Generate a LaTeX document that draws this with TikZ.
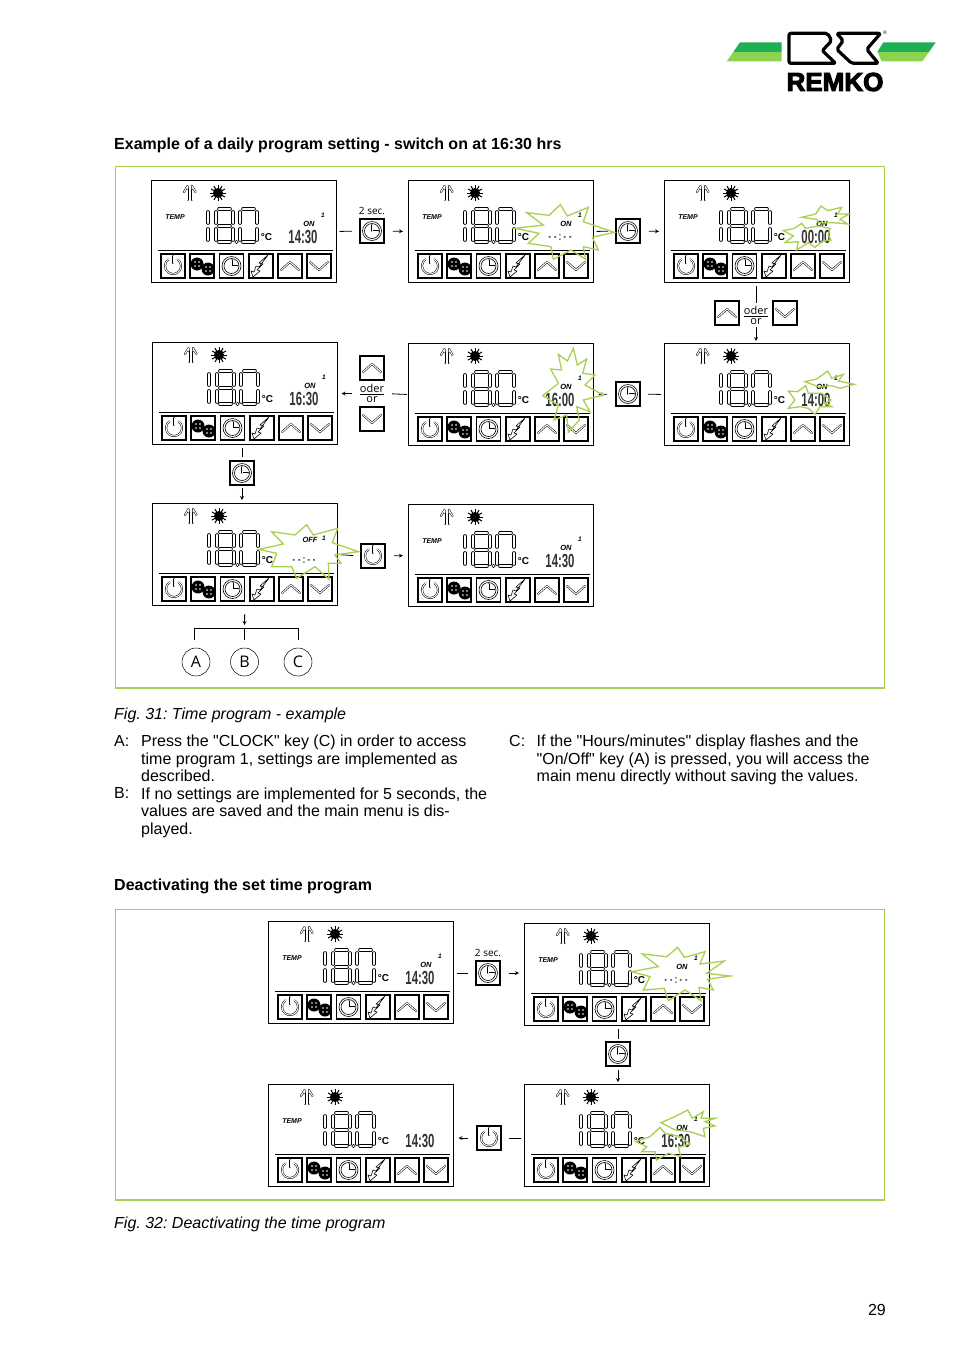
\documentclass[tikz,border=0pt]{standalone}
\usepackage{fontspec}
\setmainfont[Ligatures=TeXOff]{Liberation Sans}
\newfontfamily\keyfont{Open Sans}
\newfontfamily\logofont[FakeBold=4]{Liberation Sans Bold}
\usetikzlibrary{positioning}

\definecolor{framegreen}{RGB}{168,208,80}
\definecolor{logodark}{RGB}{30,175,85}
\definecolor{logolight}{RGB}{140,212,80}

\newcommand\flash[3]{\draw[flashline, shift={(#1pt,-#2pt)}, x=.3333pt, y=-.3333pt] #3 -- cycle;}
\newcommand\nohours{\fontsize{12}{12}\selectfont -\kern5pt-\kern4pt:\kern4pt-\kern5pt-}

\tikzset{
  >=stealth,
  lcdframe/.style={draw, line width=1pt, anchor=north west, minimum width=184.5pt, minimum height=102pt, inner sep=0pt},
  keybox/.style={draw, line width=1.6pt, minimum width=24pt, minimum height=24pt, inner sep=0pt},
  segline/.style={line width=.55pt, double=white, double distance=2.5pt, line cap=round},
  iconline/.style={line width=.5pt, double=white, double distance=1pt, line cap=round, line join=round},
  flashline/.style={draw=framegreen, line width=1.3pt, line join=miter},
  greenframe/.style={draw=framegreen, line width=.8pt},
  stubline/.style={line width=.8pt, shorten <=3pt, shorten >=7pt},
  flowline/.style={->, line width=.8pt, shorten <=8pt, shorten >=5pt},
  bodytext/.style={anchor=north west, inner sep=0pt, align=left, font=\fontsize{16}{17.5}\selectfont},
  keytext/.style={inner sep=0pt, font=\keyfont\fontsize{10}{10}\selectfont},
  ortext/.style={inner sep=0pt, align=center, font=\keyfont\fontsize{11}{9.5}\selectfont},
  lettercircle/.style={draw, circle, line width=.5pt, minimum size=28pt, inner sep=0pt, font=\keyfont\fontsize{16}{16}\selectfont},
  timetext/.style={inner sep=0pt, xscale=.6, text=black!80, font=\bfseries\fontsize{19}{19}\selectfont},
  pics/powericon/.style={code={
    \draw[iconline] (-55:8) arc (-55:235:8);
    \draw[iconline] (0,-10) -- (0,-3);
  }},
  pics/fanicon/.style={code={
    \foreach \fx/\fy in {-5/-2,6/3} {
      \fill (\fx,\fy) circle (6.5);
      \foreach \dx/\dy in {-2/-2,2/-2,-2/2,2/2} \fill[white] (\fx+\dx,\fy+\dy) circle (.9);
    }
  }},
  pics/clockicon/.style={code={
    \draw[line width=.6pt] (0,0) circle (9.5) (0,0) circle (7.5);
    \draw[iconline] (0,-6) -- (0,0) -- (6,0);
  }},
  pics/boosticon/.style={code={
    \draw[line width=.6pt, line join=round] (7,-11) -- (-2,-3) -- (2,-2) -- (-4,4) -- (-1,5) -- (-8,11)
      -- (-10,5) -- (-7,6) -- (-5,0) -- (-2,1) -- cycle;
  }},
  pics/upicon/.style={code={\draw[iconline] (-9,4) -- (0,-4) -- (9,4);}},
  pics/downicon/.style={code={\draw[iconline] (-9,-4) -- (0,4) -- (9,-4);}},
  pics/keybtn/.style={code={
    \node[keybox] (-box) at (0,0) {};
    \pic {#1};
  }},
  pics/panel/.style n args={5}{code={
    \node[lcdframe] (-frame) at (0,0) {};
    % person and sun
    \draw[iconline] (36.5,9) -- (36.5,20) (41,9) -- (41,20);
    \draw[iconline] (33,12) -- (36.5,6) -- (36.5,9) (44.5,12) -- (41,6) -- (41,9);
    \fill (67,13) circle (5);
    \foreach \ang in {0,30,...,330} \draw[line width=1pt] (67,13) -- +(\ang:8);
    \node[inner sep=0pt, font=\bfseries\itshape\fontsize{7}{7}\selectfont] (-temp) at (24,37) {#1};
    % big digits
    \foreach \gx in {65,89}
      \foreach \ax/\ay/\bx/\by in {3/29/14/29,0/32/0/43,17/32/17/43,0/49/0/60,17/49/17/60,3/62/14/62}
        \draw[segline] (\gx+\ax,\ay) -- (\gx+\bx,\by);
    \draw[segline] (68,46) -- (79,46);
    \draw[segline] (57,32) -- (57,43) (57,49) -- (57,60);
    \draw[line width=.6pt] (85.5,62) circle (1.8);
    \node[inner sep=0pt, font=\bfseries\fontsize{10}{10}\selectfont] (-unit) at (115.5,57) {°C};
    % clock field
    \node[inner sep=0pt, font=\bfseries\itshape\fontsize{7.5}{7.5}\selectfont] (-state) at (158,44+#4) {#2};
    \node[inner sep=0pt, font=\bfseries\itshape\fontsize{6.5}{6.5}\selectfont] (-prog) at (172,35) {#3};
    \node[timetext] (-time) at (152,57) {#5};
    \draw[line width=.8pt] (7,70) -- (182,70);
    % buttons
    \pic at (22,86) {keybtn=powericon};
    \pic at (51,86) {keybtn=fanicon};
    \pic at (80.5,86) {keybtn=clockicon};
    \pic at (110,86) {keybtn=boosticon};
    \pic at (139,86) {keybtn=upicon};
    \pic at (168,86) {keybtn=downicon};
  }},
}

\begin{document}
\frenchspacing
\begin{tikzpicture}[x=1pt, y=-1pt]
  \useasboundingbox (0,0) rectangle (954,1350);

  % logo
  \begin{scope}[shift={(715pt,-20pt)}, x=.3333pt, y=-.3333pt]
    \fill[logodark] (75,67) -- (200,67) -- (200,96) -- (55,96) -- cycle;
    \fill[logolight] (55,96) -- (200,96) -- (200,124) -- (35,124) -- cycle;
    \fill[logodark] (505,67) -- (662,67) -- (642,96) -- (487,96) -- cycle;
    \fill[logolight] (487,96) -- (642,96) -- (622,124) -- (500,124) -- cycle;
    \draw[line width=3.2pt, rounded corners=2pt, line join=round] (222,40) -- (338,40) -- (350,62) -- (322,92) -- (362,130) -- (222,130) -- cycle;
    \draw[line width=3.2pt, rounded corners=2pt, line join=round] (365,40) -- (385,62) -- (365,88) -- (410,130) -- (490,130) -- (455,88) -- (497,40) -- cycle;
  \end{scope}
  \node[inner sep=0pt, font=\logofont\fontsize{26}{26}\selectfont] (logotext) at (835,82) {REMKO};
  \node[inner sep=0pt, font=\fontsize{5}{5}\selectfont] (logomark) at (885,33) {®};

  \node[anchor=west, inner sep=0pt, font=\bfseries\fontsize{16}{18}\selectfont] (head1) at (114,145) {Example of a daily program setting - switch on at 16:30 hrs};
  \draw[greenframe] (115,166) rectangle (884,688);
  \draw[draw=framegreen, line width=1.6pt] (115,688) -- (884,688);

  % first row
  \pic (p1) at (151,180) {panel={TEMP}{ON}{1}{0}{14:30}};
  \pic (p2) at (408,180) {panel={TEMP}{ON}{1}{0}{\nohours}};
  \pic (p3) at (664,180) {panel={TEMP}{ON}{1}{0}{00:00}};
  \pic (k1) at (372,231) {keybtn=clockicon};
  \pic (k2) at (628,231) {keybtn=clockicon};
  \node[keytext, above=3pt of k1-box] (sec1) {2 sec.};
  \draw[stubline] (p1-frame.east) -- (k1-box.west);
  \draw[flowline] (k1-box.east) -- (p2-frame.west);
  \draw[stubline] (p2-frame.east) -- (k2-box.west);
  \draw[flowline] (k2-box.east) -- (p3-frame.west);

  % second row
  \pic (p4) at (152,342) {panel={}{ON}{1}{0}{16:30}};
  \pic (p5) at (408,343) {panel={}{ON}{1}{0}{16:00}};
  \pic (p6) at (664,343) {panel={}{ON}{1}{0}{14:00}};
  \node[ortext] (or1) at (756,315.5) {\underline{oder}\\or};
  \pic (u1) at (727,313) {keybtn=upicon};
  \pic (d1) at (785,313) {keybtn=downicon};
  \draw[line width=.8pt, shorten <=3pt, shorten >=3pt] (or1 |- p3-frame.south) -- (or1);
  \draw[->, line width=.8pt, shorten <=2pt, shorten >=2pt] (or1) -- (or1 |- p6-frame.north);
  \pic (k3) at (628,394) {keybtn=clockicon};
  \node[ortext] (or2) at (372,393.5) {\underline{oder}\\or};
  \pic (u2) at (372,368) {keybtn=upicon};
  \pic (d2) at (372,419) {keybtn=downicon};
  \draw[stubline] (p6-frame.west) -- (k3-box.east);
  \draw[flowline] (k3-box.west) -- (p5-frame.east);
  \draw[line width=.8pt, shorten <=1pt, shorten >=8pt] (p5-frame.west) -- (or2.east);
  \draw[->, line width=.8pt, shorten <=8pt, shorten >=4pt] (or2.west) -- (p4-frame.east);

  % third row
  \pic (k4) at (242,473) {keybtn=clockicon};
  \pic (p7) at (152,503) {panel={}{OFF}{1}{-7}{\nohours}};
  \pic (p8) at (408,504) {panel={TEMP}{ON}{1}{0}{14:30}};
  \pic (k5) at (373,556) {keybtn=powericon};
  \draw[stubline, shorten >=3pt] (k4-box |- p4-frame.south) -- (k4-box);
  \draw[->, line width=.8pt, shorten <=2pt, shorten >=3pt] (k4-box) -- (k4-box |- p7-frame.north);
  \draw[stubline] (p7-frame.east) -- (k5-box.west);
  \draw[flowline] (k5-box.east) -- (p8-frame.west);

  % key letters
  \node[lettercircle] (keyb) at (244.5,662) {B};
  \node[lettercircle, left=20pt of keyb] (keya) {A};
  \node[lettercircle, right=25pt of keyb] (keyc) {C};
  \coordinate (fork) at (244.5,628);
  \coordinate (forka) at (194,640);
  \coordinate (forkc) at (298,640);
  \draw[->, line width=.8pt, shorten <=8pt, shorten >=3pt] (p7-frame.south) -- (fork);
  \draw[line width=.7pt] (forka) |- (fork) -| (forkc);
  \draw[line width=1.4pt, shorten >=8pt] (fork) -- (keyb);

  \node[anchor=west, inner sep=0pt, font=\itshape\fontsize{16}{18}\selectfont] (cap1) at (114,715) {Fig. 31: Time program - example};
  \node[bodytext] (la) at (114,735) {A:};
  \node[bodytext] (ta) at (141,735) {Press the "CLOCK" key (C) in order to access\\time program 1, settings are implemented as\\described.};
  \node[bodytext] (lb) at (114,787.5) {B:};
  \node[bodytext] (tb) at (141,787.5) {If no settings are implemented for 5 seconds, the\\values are saved and the main menu is dis-\\played.};
  \node[bodytext] (lc) at (509,735) {C:};
  \node[bodytext] (tc) at (536.5,735) {If the "Hours/minutes" display flashes and the\\"On/Off" key (A) is pressed, you will access the\\main menu directly without saving the values.};

  \node[anchor=west, inner sep=0pt, font=\bfseries\fontsize{16}{18}\selectfont] (head2) at (114,886) {Deactivating the set time program};
  \draw[greenframe] (115,909) rectangle (884,1200);
  \draw[draw=framegreen, line width=1.6pt] (115,1200) -- (884,1200);

  % second figure
  \pic (q1) at (268,921) {panel={TEMP}{ON}{1}{0}{14:30}};
  \pic (q2) at (524,923) {panel={TEMP}{ON}{1}{0}{\nohours}};
  \pic (q3) at (524,1084) {panel={}{ON}{1}{0}{16:30}};
  \pic (q4) at (268,1084) {panel={TEMP}{}{}{0}{14:30}};
  \pic (k6) at (488,973) {keybtn=clockicon};
  \pic (k7) at (618,1054) {keybtn=clockicon};
  \pic (k8) at (489,1138) {keybtn=powericon};
  \node[keytext, above=3pt of k6-box] (sec2) {2 sec.};
  \draw[stubline] (q1-frame.east |- k6-box) -- (k6-box.west);
  \draw[flowline] (k6-box.east) -- (q2-frame.west |- k6-box);
  \draw[stubline, shorten >=2pt] (k7-box |- q2-frame.south) -- (k7-box.north);
  \draw[flowline, shorten <=3pt, shorten >=2pt] (k7-box.south) -- (k7-box |- q3-frame.north);
  \draw[stubline] (q3-frame.west |- k8-box) -- (k8-box.east);
  \draw[flowline] (k8-box.west) -- (q4-frame.east |- k8-box);

  % flashing fields
  \flash{515}{200}{(35,38) -- (102,46) -- (136,14) -- (157,48) -- (220,22) -- (205,65) -- (298,97) -- (232,112) -- (250,150) -- (205,140) -- (212,178) -- (168,150) -- (115,178) -- (108,140) -- (40,130) -- (72,100) -- (0,85) -- (85,75)}
  \flash{775}{200}{(80,52) -- (122,42) -- (138,18) -- (158,32) -- (200,22) -- (188,42) -- (222,42) -- (195,58) -- (218,72) -- (175,68) -- (130,68) -- (125,58)}
  \flash{775}{200}{(25,92) -- (58,85) -- (80,70) -- (92,85) -- (130,78) -- (165,85) -- (160,105) -- (168,120) -- (140,125) -- (120,142) -- (100,128) -- (65,150) -- (70,125) -- (30,128) -- (55,108)}
  \flash{775}{365}{(90,50) -- (125,42) -- (158,18) -- (170,40) -- (205,28) -- (190,48) -- (238,58) -- (195,70) -- (170,62) -- (130,65)}
  \flash{775}{365}{(40,78) -- (68,80) -- (92,62) -- (100,85) -- (140,85) -- (168,105) -- (150,115) -- (170,125) -- (135,125) -- (120,148) -- (100,130) -- (75,125) -- (40,130) -- (60,105)}
  \flash{540}{345}{(32,72) -- (65,75) -- (55,28) -- (82,48) -- (100,10) -- (112,60) -- (140,42) -- (128,85) -- (165,90) -- (135,120) -- (190,150) -- (130,165) -- (150,200) -- (110,185) -- (118,225) -- (85,262) -- (80,210) -- (42,225) -- (55,180) -- (8,152) -- (55,115)}
  \flash{255}{520}{(50,35) -- (120,45) -- (155,14) -- (175,45) -- (248,25) -- (232,68) -- (310,95) -- (240,105) -- (258,130) -- (220,130) -- (222,178) -- (180,140) -- (125,175) -- (110,140) -- (50,140) -- (65,100) -- (12,88) -- (85,72)}
  \flash{625}{940}{(52,42) -- (125,50) -- (158,22) -- (178,52) -- (240,35) -- (225,72) -- (298,63) -- (245,100) -- (315,108) -- (248,118) -- (265,150) -- (222,142) -- (228,182) -- (180,150) -- (130,182) -- (118,145) -- (55,150) -- (75,110) -- (20,95) -- (100,80)}
  \flash{625}{940}{(108,548) -- (150,530) -- (188,510) -- (202,535) -- (235,515) -- (228,535) -- (270,535) -- (240,545) -- (270,558) -- (235,565) -- (240,590) -- (195,575) -- (150,570)}
  \flash{625}{940}{(32,605) -- (75,590) -- (105,562) -- (120,580) -- (165,590) -- (195,612) -- (160,622) -- (168,650) -- (130,640) -- (95,660) -- (90,635) -- (50,635) -- (65,620)}

  \node[anchor=west, inner sep=0pt, font=\itshape\fontsize{16}{18}\selectfont] (cap2) at (114,1224) {Fig. 32: Deactivating the time program};
  \node[anchor=east, inner sep=0pt, font=\fontsize{16}{18}\selectfont] (pageno) at (886,1310) {29};
\end{tikzpicture}
\end{document}
